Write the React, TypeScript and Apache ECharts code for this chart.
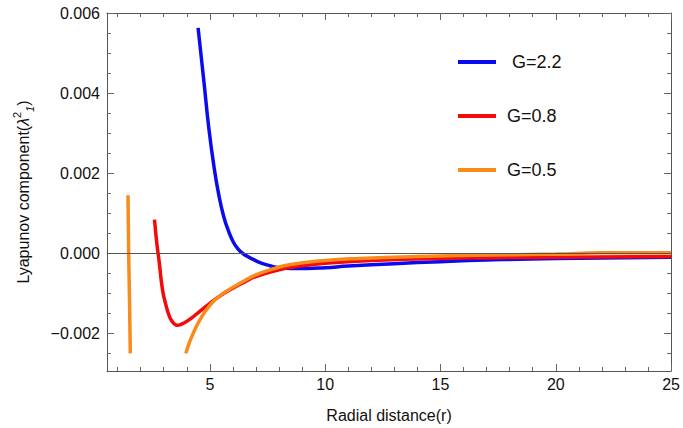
import React, { useEffect, useRef } from 'react';
import * as echarts from 'echarts';

const FONT = '"Liberation Sans", Arial, Helvetica, sans-serif';

// Axis ranges
const X_MIN = 0.54;
const X_MAX = 25;
const Y_MIN = -0.00294;
const Y_MAX = 0.006;

// Tick values
const X_MAJOR = [5, 10, 15, 20, 25];
const X_MINOR = [1, 2, 3, 4, 6, 7, 8, 9, 11, 12, 13, 14, 16, 17, 18, 19, 21, 22, 23, 24];
const Y_MAJOR = [-0.002, 0, 0.002, 0.004, 0.006];
const Y_MINOR = [-0.0025, -0.0015, -0.001, -0.0005, 0.0005, 0.001, 0.0015, 0.0025, 0.003, 0.0035, 0.0045, 0.005, 0.0055];

// G = 2.2 (blue)
const blueR = [4.49, 4.74, 4.96, 5.17, 5.39, 5.6, 5.8, 6.0, 6.2, 6.4, 6.6, 6.9, 7.2, 7.6, 8.0, 8.5, 9.2, 10, 11, 13, 15, 17, 20, 25];
const blueY = [0.00563, 0.0043, 0.0031, 0.0022, 0.00145, 0.00092, 0.00057, 0.0003, 0.00012, 0.00001, -0.00007, -0.00016, -0.00024, -0.00031, -0.00036, -0.00038, -0.00038, -0.00036, -0.00032, -0.00026, -0.00021, -0.00017, -0.00013, -0.0001];

// G = 0.8 (red)
const redR = [2.6, 2.7, 2.8, 2.95, 3.1, 3.25, 3.4, 3.5, 3.6, 3.7, 3.85, 4.2, 4.6, 5.0, 5.5, 6.0, 6.5, 7.0, 8.0, 9, 10, 12, 15, 20, 25];
const redY = [0.00084, 0.00025, -0.0002, -0.00092, -0.0013, -0.00158, -0.00173, -0.00178, -0.0018, -0.00179, -0.00175, -0.00162, -0.00143, -0.00125, -0.00104, -0.00087, -0.00072, -0.00058, -0.00041, -0.00031, -0.00025, -0.00018, -0.00013, -0.0001, -0.00008];

// G = 0.5 (orange), two branches
const orange1R = [1.45, 1.48, 1.52, 1.55];
const orange1Y = [0.00145, 0.0, -0.0013, -0.0025];
const orange2R = [3.96, 4.1, 4.3, 4.6, 5.0, 5.4, 5.8, 6.3, 7.0, 7.8, 8.5, 10, 11.5, 14, 16.5, 20, 22, 25];
const orange2Y = [-0.0025, -0.00225, -0.00197, -0.00163, -0.0013, -0.00108, -0.00092, -0.00075, -0.00054, -0.00038, -0.00028, -0.00018, -0.00013, -0.00008, -0.00005, -0.00002, 0.00001, 0.00001];

const SERIES_NAMES = ['G=2.2', 'G=0.8', 'G=0.5'];
const COLORS = ['#0b0bf0', '#f50a0a', '#f98a1c'];

const pairs = (xs: number[], ys: number[]) => xs.map((x, i) => [x, ys[i]]);

const AXIS_COLOR = '#555';
const TICK_COLOR = '#666';

function makeAxis(
  kind: 'x' | 'y',
  position: string,
  ticks: number[],
  len: number,
  withLine: boolean,
  extra: any = {}
) {
  return {
    type: 'value',
    position,
    min: kind === 'x' ? X_MIN : Y_MIN,
    max: kind === 'x' ? X_MAX : Y_MAX,
    axisLine: { show: withLine, onZero: false, lineStyle: { color: AXIS_COLOR, width: 1 } },
    axisTick: {
      show: true,
      inside: true,
      length: len,
      customValues: ticks,
      lineStyle: { color: TICK_COLOR, width: 1 },
    },
    axisLabel: { show: false },
    splitLine: { show: false },
    ...extra,
  };
}

const fmtY = (v: number) => {
  if (Math.abs(v) < 1e-12) return '0.000';
  return (v < 0 ? '\u2212' : '') + Math.abs(v).toFixed(3);
};

export default function App() {
  const ref = useRef<HTMLDivElement>(null);
  useEffect(() => {
    document.body.style.margin = '0';
    const chart = echarts.init(ref.current!, null, { renderer: 'svg' });
    const lineSeries = (name: string, data: number[][], color: string, extra: any = {}) => ({
      type: 'line',
      name,
      data,
      xAxisIndex: 0,
      yAxisIndex: 0,
      showSymbol: false,
      symbol: 'none',
      smooth: true,
      lineStyle: { color, width: 3.5 },
      itemStyle: { color },
      ...extra,
    });
    chart.setOption({
      animation: false,
      backgroundColor: '#fff',
      grid: { left: 107, right: 6, top: 13, bottom: 57, containLabel: false },
      legend: {
        orient: 'vertical',
        left: 458,
        top: 53,
        padding: 0,
        itemWidth: 38,
        itemHeight: 4,
        itemGap: 36,
        icon: 'rect',
        data: SERIES_NAMES,
        formatter: (name: string) => (name === 'G=2.2' ? '{p|' + name + '}' : '{q|' + name + '}'),
        textStyle: {
          color: '#111',
          fontFamily: FONT,
          fontSize: 18,
          rich: {
            p: { fontSize: 18, fontFamily: FONT, color: '#111', padding: [0, 0, 0, 11], lineHeight: 20 },
            q: { fontSize: 18, fontFamily: FONT, color: '#111', padding: [0, 0, 0, 6], lineHeight: 20 },
          },
        },
      },
      xAxis: [
        makeAxis('x', 'bottom', X_MAJOR, 7, true, {
          axisLabel: {
            show: true,
            customValues: X_MAJOR,
            fontSize: 16,
            fontFamily: FONT,
            color: '#111',
            margin: 5,
            alignMaxLabel: 'center',
            alignMinLabel: 'center',
          },
          name: 'Radial distance(r)',
          nameLocation: 'middle',
          nameGap: 36,
          nameTextStyle: { fontSize: 16, fontFamily: FONT, color: '#111' },
        }),
        makeAxis('x', 'bottom', X_MINOR, 4, false),
        makeAxis('x', 'top', X_MAJOR, 7, true),
        makeAxis('x', 'top', X_MINOR, 4, false),
      ],
      yAxis: [
        makeAxis('y', 'left', Y_MAJOR, 7, true, {
          axisLabel: {
            show: true,
            customValues: Y_MAJOR,
            formatter: fmtY,
            fontSize: 16,
            fontFamily: FONT,
            color: '#111',
            margin: 7,
          },
          name: '{t|Lyapunov component(}{l|\u03bb}{sup|2}{sub|1}{t|)}',
          nameLocation: 'middle',
          nameGap: 72,
          nameTextStyle: {
            fontSize: 16,
            fontFamily: FONT,
            color: '#111',
            rich: {
              t: { fontSize: 16, fontFamily: FONT, color: '#111', lineHeight: 24 },
              l: { fontSize: 16, fontFamily: FONT, color: '#111', fontStyle: 'italic', lineHeight: 24 },
              sup: { fontSize: 11, fontFamily: FONT, color: '#111', verticalAlign: 'top', lineHeight: 12 },
              sub: { fontSize: 11, fontFamily: FONT, color: '#111', fontStyle: 'italic', verticalAlign: 'bottom', lineHeight: 12 },
            },
          },
        }),
        makeAxis('y', 'left', Y_MINOR, 4, false),
        makeAxis('y', 'right', Y_MAJOR, 7, true),
        makeAxis('y', 'right', Y_MINOR, 4, false),
      ],
      series: [
        lineSeries(SERIES_NAMES[0], pairs(blueR, blueY), COLORS[0], {
          markLine: {
            silent: true,
            symbol: ['none', 'none'],
            label: { show: false },
            lineStyle: { color: '#555', width: 1, type: 'solid' },
            data: [{ yAxis: 0 }],
          },
        }),
        lineSeries(SERIES_NAMES[1], pairs(redR, redY), COLORS[1]),
        lineSeries(SERIES_NAMES[2], pairs(orange1R, orange1Y), COLORS[2]),
        lineSeries(SERIES_NAMES[2], pairs(orange2R, orange2Y), COLORS[2]),
      ],
    });
    return () => chart.dispose();
  }, []);
  return <div ref={ref} style={{ width: 683, height: 428 }} />;
}
